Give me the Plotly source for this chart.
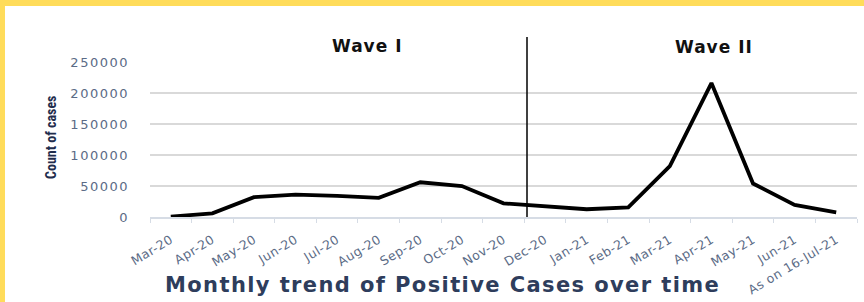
import plotly.graph_objects as go

categories = ["Mar-20", "Apr-20", "May-20", "Jun-20", "Jul-20", "Aug-20", "Sep-20",
              "Oct-20", "Nov-20", "Dec-20", "Jan-21", "Feb-21", "Mar-21", "Apr-21",
              "May-21", "Jun-21", "As on 16-Jul-21"]
cases = [500, 6000, 32000, 36000, 34000, 31000, 56000, 50000, 22000, 16500,
         12500, 15500, 82000, 216000, 54000, 19500, 7500]
y_ticks = [0, 50000, 100000, 150000, 200000, 250000]
wave_labels = ["Wave I", "Wave II"]

W, H = 864, 302
L, R, T, B = 150, 7, 62, 85
pw, ph = W - L - R, H - T - B

def px2x(px):
    return (px - L) / pw

def py2y(py):
    return (H - B - py) / ph

def spaced(s, sp):
    return '<span style="letter-spacing:%spx">%s</span>' % (sp, s)

fig = go.Figure()
fig.add_trace(go.Scatter(
    x=categories, y=cases, mode="lines",
    line=dict(color="black", width=3.8), hoverinfo="x+y", showlegend=False))

tick_color = "#5b6b86"
fig.update_layout(
    width=W, height=H,
    margin=dict(l=L, r=R, t=T, b=B, autoexpand=False),
    paper_bgcolor="white", plot_bgcolor="white",
    font=dict(family="DejaVu Sans, sans-serif"),
    xaxis=dict(
        type="category", range=[-0.5, len(categories) - 0.5], automargin=False,
        tickvals=categories, ticktext=[spaced(c, 0.5) for c in categories],
        showgrid=False, tickson="boundaries", ticks="outside", ticklen=4,
        tickcolor="#d6dce5", showline=True, linecolor="#d6dce5", linewidth=1.5,
        tickangle=-31, tickfont=dict(size=12.5, color=tick_color, family="DejaVu Sans, sans-serif"),
        ticklabelstandoff=9,
        fixedrange=True,
    ),
    yaxis=dict(
        range=[0, 250000], automargin=False,
        tickvals=y_ticks, ticktext=[spaced(str(v), 1.5) for v in y_ticks],
        showgrid=True, gridcolor="#d9d9d9", gridwidth=2, zeroline=False,
        tickfont=dict(size=13, color=tick_color, family="DejaVu Sans, sans-serif"),
        ticklabelstandoff=20,
        fixedrange=True,
    ),
)

shapes = [
    dict(type="rect", xref="paper", yref="paper", x0=px2x(0), x1=px2x(W), y0=py2y(6), y1=py2y(0),
         fillcolor="#ffdc5a", line=dict(width=0), layer="above"),
    dict(type="rect", xref="paper", yref="paper", x0=px2x(0), x1=px2x(5), y0=py2y(H), y1=py2y(0),
         fillcolor="#ffdc5a", line=dict(width=0), layer="above"),
    dict(type="line", xref="paper", yref="paper", x0=px2x(527), x1=px2x(527),
         y0=0, y1=py2y(37), line=dict(color="black", width=1.5)),
]
fig.update_layout(shapes=shapes)

common = dict(xref="paper", yref="paper", showarrow=False, xanchor="center", yanchor="middle")
anns = [
    dict(text="<b>" + spaced(wave_labels[0], 1) + "</b>", x=px2x(367), y=py2y(46),
         font=dict(size=17, color="#111111", family="DejaVu Sans, sans-serif"), **common),
    dict(text="<b>" + spaced(wave_labels[1], 1) + "</b>", x=px2x(714), y=py2y(47),
         font=dict(size=17, color="#111111", family="DejaVu Sans, sans-serif"), **common),
    dict(text="<b>Count of cases</b>", x=px2x(51), y=py2y(138), textangle=-90,
         font=dict(size=14, color="#1f2d4d", family="Liberation Sans Narrow, Roboto Condensed, Arial Narrow, sans-serif"),
         **common),
    dict(text="<b>" + spaced("Monthly trend of Positive Cases over time", 1.4) + "</b>",
         x=px2x(442), y=py2y(285),
         font=dict(size=21, color="#2e3d5c", family="DejaVu Sans, sans-serif"), **common),
]
fig.update_layout(annotations=anns)

fig.write_html("out.html", config={"displayModeBar": False},
               post_script="document.body.style.margin='0';")
